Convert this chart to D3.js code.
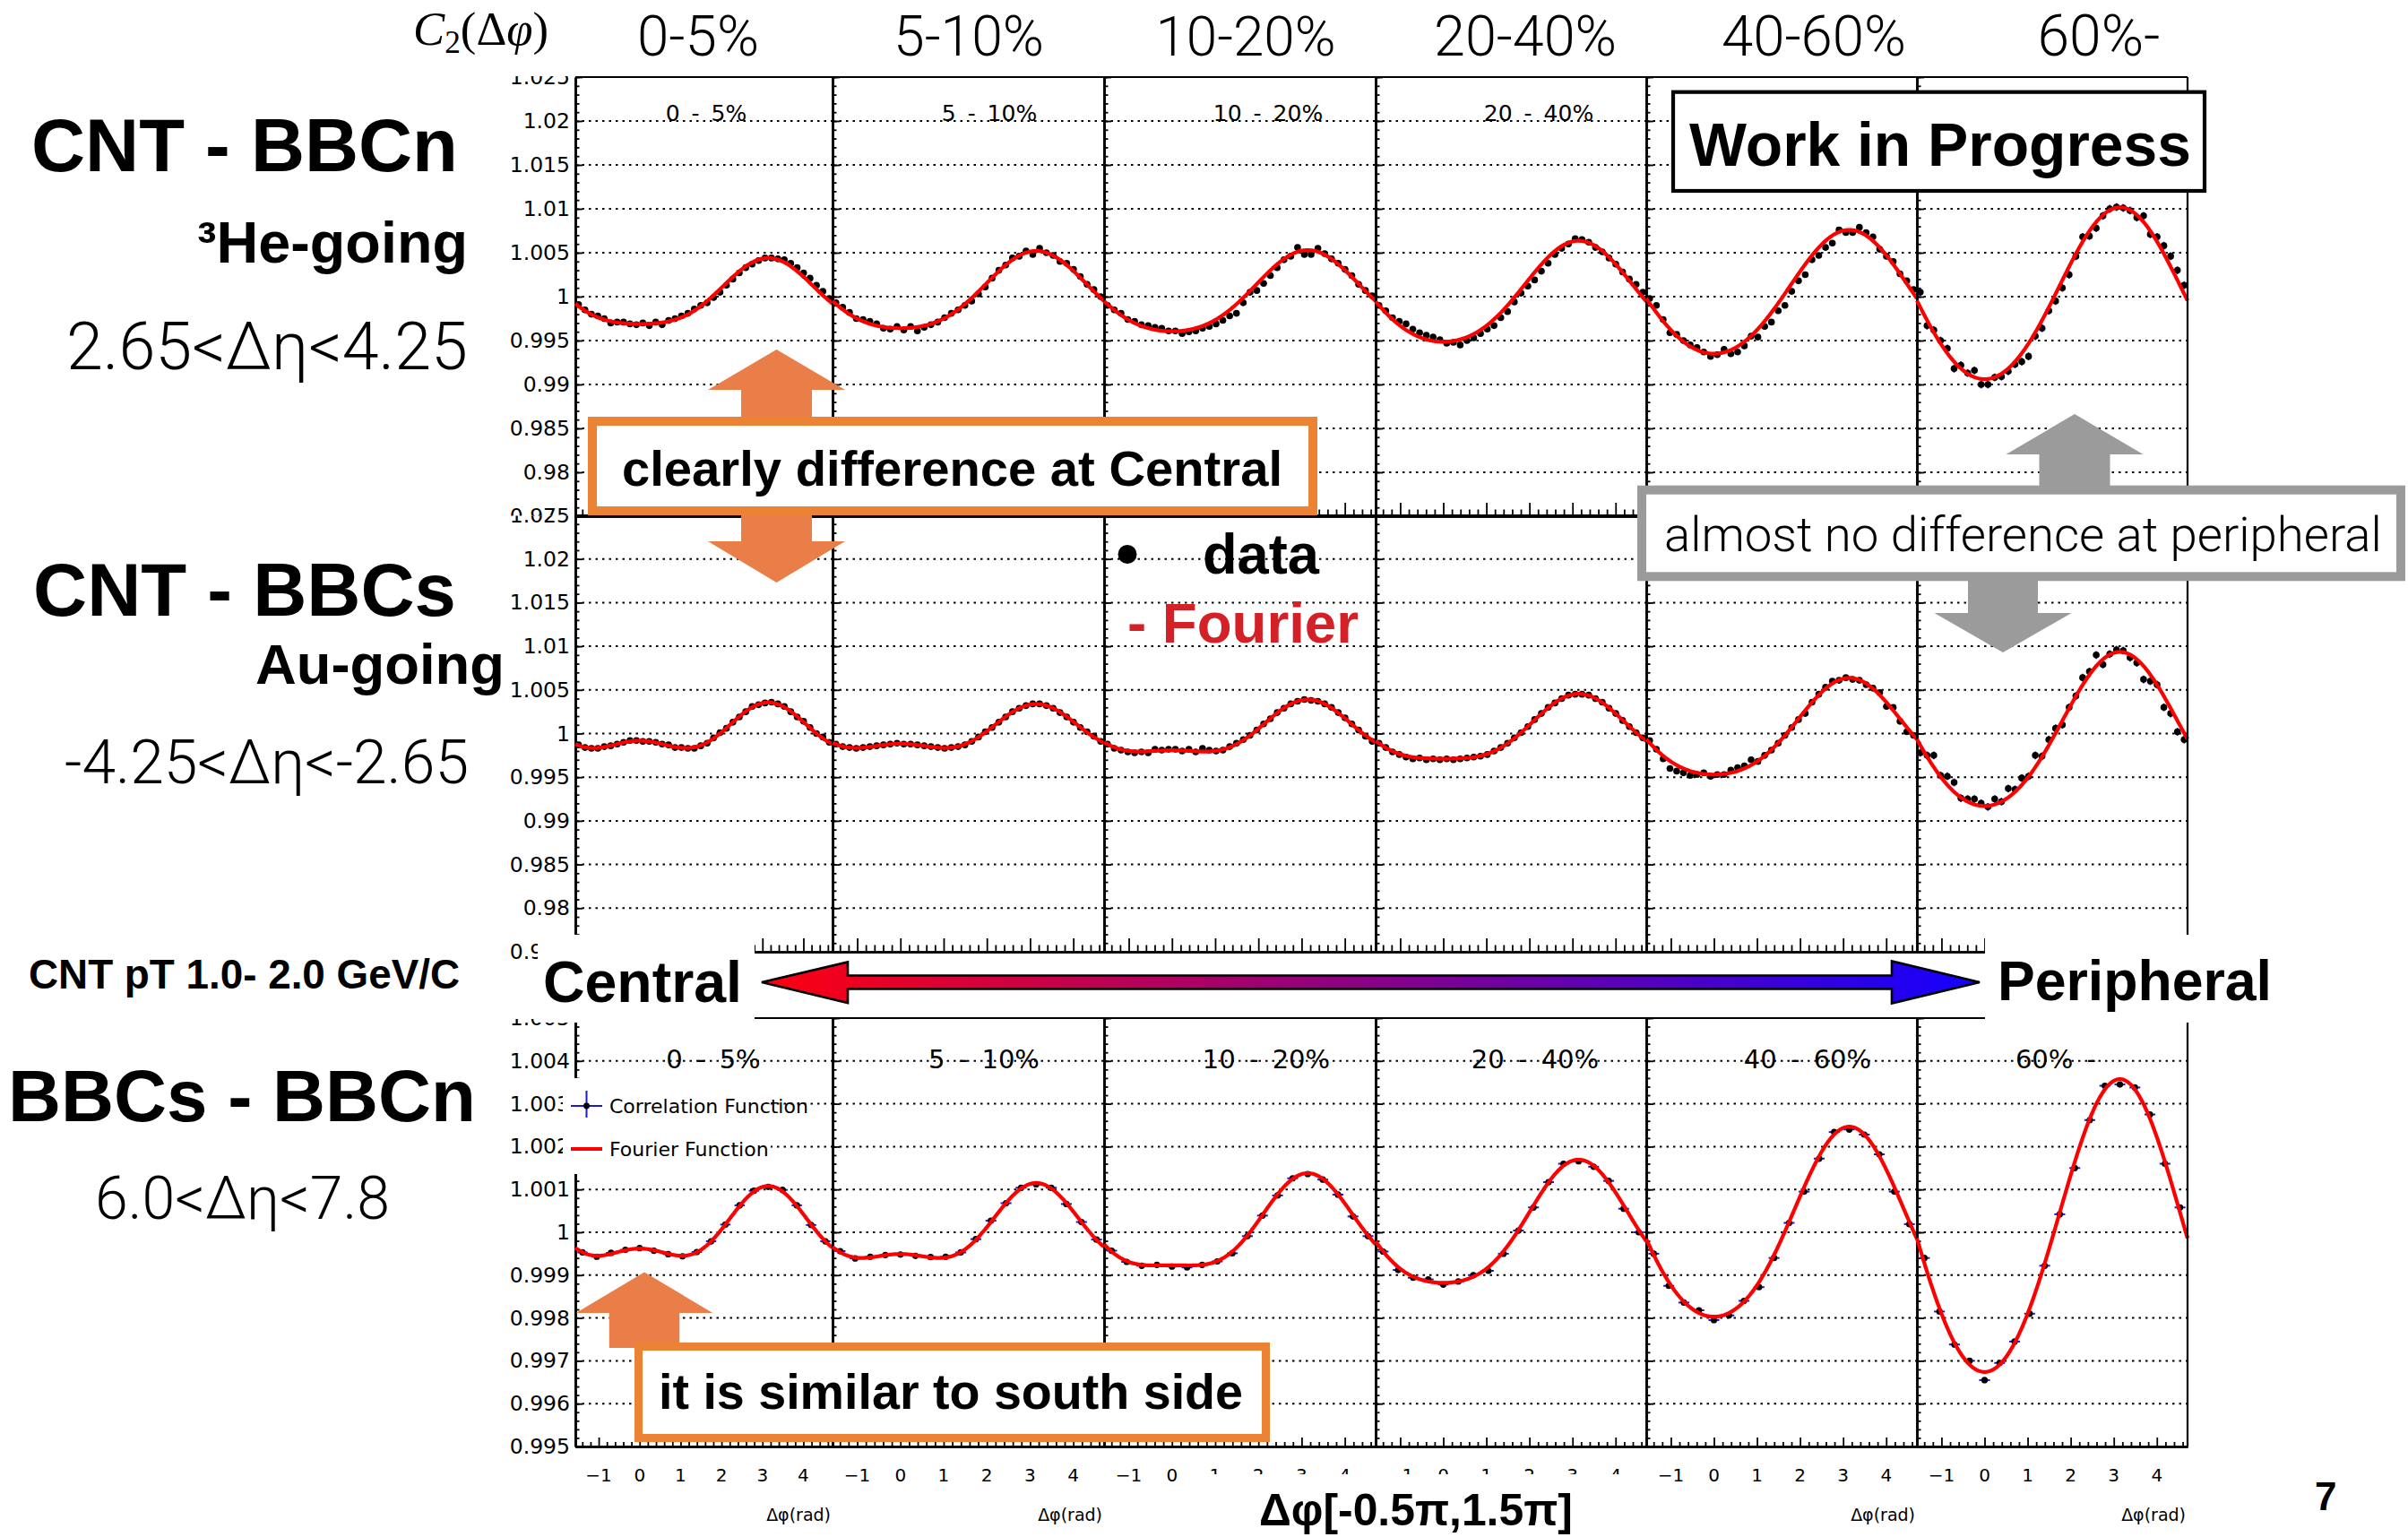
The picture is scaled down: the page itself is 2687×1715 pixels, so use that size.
<!DOCTYPE html>
<html>
<head>
<meta charset="utf-8">
<title>C2(Δφ) – CNT/BBC correlations vs centrality</title>
<script src="https://cdn.jsdelivr.net/npm/d3@7/dist/d3.min.js"></script>
<style>
html,body{margin:0;padding:0;background:#fff;}
svg{display:block;}
</style>
</head>
<body>
<svg id="chart" width="2687" height="1715" viewBox="0 0 2687 1715"></svg>
<script>
// ---------------- values ----------------
const centralityBins = ["0-5%", "5-10%", "10-20%", "20-40%", "40-60%", "60%-"];
const panelTags = ["0 - 5%", "5 - 10%", "10 - 20%", "20 - 40%", "40 - 60%", "60% -"];
const phiTicks = [-1, 0, 1, 2, 3, 4];

// C2(Δφ) − 1 per Δφ bin, 40 bins over [-π/2, 3π/2], in units of 1e-4
const cntBbcnDev = [
  [-9,-15,-20,-22,-25,-30,-29,-29,-31,-32,-30,-33,-29,-32,-27,-25,-22,-19,-14,-10,-7,-1,5,13,20,27,33,37,41,44,44,43,42,38,33,27,21,13,6,-2],
  [-7,-12,-18,-25,-26,-28,-31,-36,-37,-34,-38,-34,-39,-35,-32,-29,-24,-19,-15,-10,-5,3,11,21,30,36,44,46,52,48,55,50,47,40,38,31,23,14,8,0],
  [-10,-15,-19,-26,-28,-32,-33,-35,-36,-39,-39,-42,-40,-39,-36,-34,-31,-27,-22,-19,-7,5,7,15,24,33,42,46,56,48,48,55,49,43,38,31,24,14,7,1],
  [-10,-16,-24,-28,-31,-37,-41,-44,-46,-49,-53,-52,-55,-50,-47,-42,-37,-33,-24,-17,-6,4,12,19,29,38,48,55,60,66,65,62,56,51,44,37,28,20,14,5],
  [-2,-10,-26,-41,-43,-50,-55,-58,-63,-68,-66,-60,-65,-63,-56,-45,-46,-34,-29,-16,-10,6,18,25,42,47,56,61,76,73,73,79,73,68,54,46,40,26,18,8],
  [5,-33,-38,-50,-59,-82,-78,-87,-84,-100,-100,-92,-91,-85,-77,-74,-68,-45,-36,-16,-5,10,25,46,68,69,78,92,100,102,101,98,90,92,71,68,58,46,30,13]
];
const cntBbcsDev = [
  [-13,-16,-17,-17,-15,-14,-12,-10,-8,-8,-9,-9,-10,-12,-13,-16,-16,-17,-17,-14,-11,-5,1,6,13,19,25,31,33,35,36,34,31,25,19,14,7,0,-4,-10],
  [-12,-15,-16,-17,-16,-15,-14,-13,-12,-11,-12,-12,-13,-14,-15,-16,-17,-16,-15,-13,-9,-4,2,7,13,19,25,29,32,34,34,32,29,24,19,13,7,2,-3,-9],
  [-12,-17,-19,-21,-22,-21,-22,-18,-19,-18,-18,-20,-18,-21,-17,-19,-20,-19,-15,-11,-7,-2,4,11,17,24,29,34,37,39,38,37,34,30,24,18,11,4,-3,-9],
  [-11,-16,-21,-24,-27,-29,-28,-30,-29,-30,-29,-30,-29,-28,-27,-26,-24,-20,-16,-11,-5,1,8,16,23,30,35,40,44,45,45,44,40,36,29,23,15,8,1,-5],
  [-8,-18,-29,-40,-43,-45,-48,-47,-45,-49,-47,-47,-42,-39,-37,-30,-32,-25,-19,-11,-2,7,16,23,36,45,53,60,61,64,62,61,56,52,47,31,30,14,2,-2],
  [-22,-25,-25,-48,-49,-56,-74,-75,-75,-80,-84,-75,-78,-63,-64,-51,-49,-25,-26,-7,6,10,30,43,64,71,90,79,91,96,95,87,81,62,60,56,30,23,2,-7]
];
// 18 bins over [-π/2, 3π/2], in units of 1e-5
const bbcsBbcnDev = [
  [-47,-57,-48,-41,-37,-43,-51,-56,-46,-21,18,63,97,106,99,63,17,-21],
  [-44,-61,-57,-53,-52,-55,-58,-57,-47,-16,27,68,104,112,104,66,24,-17],
  [-43,-69,-78,-76,-80,-82,-76,-68,-49,-9,39,86,126,136,123,88,37,-9],
  [-45,-88,-106,-110,-122,-115,-100,-90,-50,4,58,117,160,166,153,120,55,0],
  [-50,-125,-164,-182,-205,-194,-160,-128,-60,22,95,172,234,240,228,182,95,19],
  [-60,-185,-262,-300,-345,-305,-255,-190,-78,42,150,262,342,345,338,275,160,58]
];

// statistical errors per centrality bin (same units as the points)
const cntBbcnErr = [0.5, 0.5, 0.6, 0.8, 1.5, 4.5];
const cntBbcsErr = [0.5, 0.5, 0.6, 0.8, 1.5, 4.5];
const bbcsBbcnErr = [1, 1, 1, 1.5, 2, 3];

// Fourier fit coefficients [a0, a1, a2]: C2 − 1 = a0 + a1 cos Δφ + a2 cos 2Δφ
const cntBbcnFourier = [[-0.75,-37.5,7.25],[1.5,-44,6.5],[0.875,-46.25,5.875],[0.3,-57.5,5.8],[1.75,-70.5,3.75],[-0.3,-97.8,4.2]];
const cntBbcsFourier = [[0.85,-21.9,12.85],[0.325,-22.75,10.825],[-0.05,-29.1,9.95],[-0.075,-37.15,8.425],[0.925,-55.35,7.425],[-0.625,-88.25,5.875]];
const bbcsBbcnFourier = [[-0.5,-73,35.5],[-0.925,-82.85,33.075],[1.25,-107.5,29.25],[2.375,-143.75,23.375],[4.625,-221.75,20.125],[0.875,-341.75,14.875]];

// ---------------- drawing ----------------
const svg = d3.select("#chart");
const defs = svg.append("defs");
const BOLD = "'Liberation Sans', Arial, Helvetica, sans-serif";
const LIGHT = "Roboto, Lato, 'Open Sans', sans-serif";
const ROOTF = "'DejaVu Sans', Verdana, sans-serif";
const SERIF = "'Liberation Serif', 'DejaVu Serif', 'Times New Roman', serif";

svg.append("rect").attr("width", 2687).attr("height", 1715).attr("fill", "#fff");

function fitText(sel, w) {
  const cur = sel.node().getComputedTextLength();
  const fs = parseFloat(sel.attr("font-size"));
  sel.attr("font-size", (fs * w / cur).toFixed(2));
  return sel;
}

const edges = [642, 929, 1232, 1535, 1837, 2139, 2441];
const phiDomain = [-Math.PI / 2, 1.5 * Math.PI];
const phiMinor = d3.range(-7, 24).map(i => +(i * 0.2).toFixed(2))
  .filter(v => Math.abs(v - Math.round(v)) > 1e-6);

// tags hidden by the "Work in Progress" box are not drawn (null)
const rowSpecs = [
  { id: "cntBbcn", dev: cntBbcnDev, fit: cntBbcnFourier, err: cntBbcnErr, unit: 1e-4,
    domain: [0.975, 1.025], yPix: [576, 86], major: 0.005, minor: 0.001, clip: [85, 575.5],
    xTick: [15, 7.5], tag: { y: 135, size: 25, ws: 5, x: [788, 1104, 1415, 1717, null, null] }, dotR: 3.8 },
  { id: "cntBbcs", dev: cntBbcsDev, fit: cntBbcsFourier, err: cntBbcsErr, unit: 1e-4,
    domain: [0.975, 1.025], yPix: [1062, 575], major: 0.005, minor: 0.001, clip: [575.5, 1080],
    xTick: [15, 7.5], tag: null, dotR: 3.8 },
  { id: "bbcsBbcn", dev: bbcsBbcnDev, fit: bbcsBbcnFourier, err: bbcsBbcnErr, unit: 1e-5,
    domain: [0.995, 1.005], yPix: [1614, 1136], major: 0.001, minor: 0.0002, clip: [1137, 1715],
    xTick: [10, 5], tag: { y: 1192, size: 29, ws: 6, x: [796, 1098, 1413, 1713, 2017, 2294] }, dotR: 3.6,
    xLabels: true, unitLabel: [true, true, false, false, true, true] }
];

const plots = svg.append("g").attr("class", "plots");

rowSpecs.forEach(spec => {
  const g = plots.append("g").attr("class", "row " + spec.id);
  const y = d3.scaleLinear().domain(spec.domain).range(spec.yPix);
  const span = spec.domain[1] - spec.domain[0];
  const yMajor = d3.range(Math.round(span / spec.major) + 1).map(i => +(spec.domain[0] + i * spec.major).toFixed(4));
  const yMinor = d3.range(Math.round(span / spec.minor) + 1).map(i => +(spec.domain[0] + i * spec.minor).toFixed(5));
  const [yb, yt] = spec.yPix;

  centralityBins.forEach((cent, p) => {
    const x = d3.scaleLinear().domain(phiDomain).range([edges[p], edges[p + 1]]);
    const pg = g.append("g").attr("class", "panel");

    // dotted grid at the major y ticks
    pg.selectAll(null).data(yMajor.slice(1, -1)).enter().append("line")
      .attr("x1", edges[p]).attr("x2", edges[p + 1])
      .attr("y1", d => y(d)).attr("y2", d => y(d))
      .attr("stroke", "#000").attr("stroke-width", 2).attr("stroke-dasharray", "2.5 5");

    // y axis with inward ticks
    const ya = pg.append("g").attr("transform", `translate(${edges[p]},0)`);
    ya.append("g").call(d3.axisRight(y).tickValues(yMinor).tickSize(4.5).tickSizeOuter(0).tickFormat(""));
    ya.append("g").call(d3.axisRight(y).tickValues(yMajor).tickSize(8).tickSizeOuter(0).tickFormat(""));
    ya.selectAll(".domain").attr("stroke-width", 2.6);
    ya.selectAll(".tick line").attr("stroke-width", 1.8);

    // x axis with upward ticks
    const xa = pg.append("g").attr("transform", `translate(0,${yb})`);
    xa.append("g").call(d3.axisTop(x).tickValues(phiMinor.filter(v => v > phiDomain[0] && v < phiDomain[1]))
      .tickSize(spec.xTick[1]).tickSizeOuter(0).tickFormat(""));
    xa.append("g").call(d3.axisTop(x).tickValues(phiTicks).tickSize(spec.xTick[0]).tickSizeOuter(0).tickFormat(""));
    xa.selectAll(".domain").attr("stroke-width", 2.6);
    xa.selectAll(".tick line").attr("stroke-width", 1.8);

    // top frame
    pg.append("line").attr("x1", edges[p]).attr("x2", edges[p + 1]).attr("y1", yt).attr("y2", yt)
      .attr("stroke", "#000").attr("stroke-width", 2.2);

    // data points with error bars
    const dev = spec.dev[p], n = dev.length, bw = 2 * Math.PI / n;
    const pts = dev.map((d, i) => ({ phi: phiDomain[0] + (i + 0.5) * bw, v: 1 + d * spec.unit, e: spec.err[p] * spec.unit }));
    pg.selectAll(null).data(pts).enter().append("line")
      .attr("x1", d => x(d.phi - 0.36 * bw)).attr("x2", d => x(d.phi + 0.36 * bw))
      .attr("y1", d => y(d.v)).attr("y2", d => y(d.v))
      .attr("stroke", "#1a1ad0").attr("stroke-width", 2);
    pg.selectAll(null).data(pts).enter().append("line")
      .attr("x1", d => x(d.phi)).attr("x2", d => x(d.phi))
      .attr("y1", d => y(d.v - d.e)).attr("y2", d => y(d.v + d.e))
      .attr("stroke", "#1a1ad0").attr("stroke-width", 1.6);
    pg.selectAll(null).data(pts).enter().append("circle")
      .attr("cx", d => x(d.phi)).attr("cy", d => y(d.v)).attr("r", spec.dotR).attr("fill", "#000");

    // Fourier function
    const c = spec.fit[p];
    const fourier = phi => 1 + spec.unit * (c[0] + c[1] * Math.cos(phi) + c[2] * Math.cos(2 * phi));
    const curvePhi = d3.range(0, 361).map(i => phiDomain[0] + i * (phiDomain[1] - phiDomain[0]) / 360);
    pg.append("path").datum(curvePhi)
      .attr("d", d3.line().x(d => x(d)).y(d => y(fourier(d))))
      .attr("fill", "none").attr("stroke", "#ff0000").attr("stroke-width", 4.2).attr("stroke-linejoin", "round");

    // centrality tag inside the pad
    if (spec.tag && spec.tag.x[p] != null) {
      pg.append("text").attr("x", spec.tag.x[p]).attr("y", spec.tag.y)
        .attr("text-anchor", "middle").attr("font-family", ROOTF).attr("font-size", spec.tag.size)
        .attr("word-spacing", spec.tag.ws).text(panelTags[p]);
    }

    // Δφ labels under the last row
    if (spec.xLabels) {
      pg.selectAll(null).data(phiTicks).enter().append("text")
        .attr("x", d => x(d)).attr("y", 1653).attr("text-anchor", "middle")
        .attr("font-family", ROOTF).attr("font-size", 20)
        .text(d => d < 0 ? "\u2212" + (-d) : String(d));
      if (spec.unitLabel[p]) {
        pg.append("text").attr("x", edges[p + 1] - 2).attr("y", 1697).attr("text-anchor", "end")
          .attr("font-family", ROOTF).attr("font-size", 19).text("Δφ(rad)");
      }
    }
  });

  // right frame
  g.append("line").attr("x1", edges[6]).attr("x2", edges[6]).attr("y1", yt).attr("y2", yb)
    .attr("stroke", "#000").attr("stroke-width", 2.2);

  // y labels on the first pad, clipped to the pad height
  const clipId = "clip-" + spec.id;
  defs.append("clipPath").attr("id", clipId).append("rect")
    .attr("x", 0).attr("y", spec.clip[0]).attr("width", 700).attr("height", spec.clip[1] - spec.clip[0]);
  const lab = g.append("g").attr("clip-path", `url(#${clipId})`)
    .append("g").attr("transform", `translate(${edges[0] - 1},0)`)
    .call(d3.axisLeft(y).tickValues(yMajor).tickSize(0).tickPadding(5).tickFormat(d => String(+d.toFixed(3))));
  lab.select(".domain").remove();
  lab.selectAll("text").attr("font-family", ROOTF).attr("font-size", 23.5).attr("fill", "#000");
});

// ---------------- legend in the BBCs-BBCn first pad ----------------
const leg = svg.append("g").attr("class", "legend");
leg.append("rect").attr("x", 628).attr("y", 1203).attr("width", 232).attr("height", 107).attr("fill", "#fff");
leg.append("line").attr("x1", 637).attr("x2", 672).attr("y1", 1234).attr("y2", 1234).attr("stroke", "#1a1ad0").attr("stroke-width", 2);
leg.append("line").attr("x1", 654.5).attr("x2", 654.5).attr("y1", 1217).attr("y2", 1247).attr("stroke", "#1a1ad0").attr("stroke-width", 2);
leg.append("circle").attr("cx", 654.5).attr("cy", 1234).attr("r", 3.4).attr("fill", "#000");
leg.append("text").attr("x", 680).attr("y", 1242).attr("font-family", ROOTF).attr("font-size", 22).text("Correlation Function");
leg.append("line").attr("x1", 637).attr("x2", 672).attr("y1", 1282).attr("y2", 1282).attr("stroke", "#ff0000").attr("stroke-width", 4);
leg.append("text").attr("x", 680).attr("y", 1290).attr("font-family", ROOTF).attr("font-size", 22).text("Fourier Function");

// ---------------- central → peripheral band ----------------
const band = svg.append("g").attr("class", "band");
band.append("rect").attr("x", 600).attr("y", 1043).attr("width", 242).attr("height", 98).attr("fill", "#fff");
band.append("rect").attr("x", 2215).attr("y", 1043).attr("width", 400).attr("height", 98).attr("fill", "#fff");
const grad = defs.append("linearGradient").attr("id", "centGrad")
  .attr("gradientUnits", "userSpaceOnUse").attr("x1", 850).attr("x2", 2209).attr("y1", 0).attr("y2", 0);
grad.append("stop").attr("offset", 0).attr("stop-color", "#ff0010");
grad.append("stop").attr("offset", 1).attr("stop-color", "#1400ff");
band.append("polygon")
  .attr("points", [[850,1096],[946,1073.5],[946,1088.5],[2111,1088.5],[2111,1072.5],[2209,1096],[2111,1119.5],[2111,1103.5],[946,1103.5],[946,1119]].map(p => p.join(",")).join(" "))
  .attr("fill", "url(#centGrad)").attr("stroke", "#000").attr("stroke-width", 2.6).attr("stroke-linejoin", "miter");
fitText(band.append("text").attr("x", 606).attr("y", 1118).attr("font-family", BOLD).attr("font-weight", "bold")
  .attr("font-size", 62).text("Central"), 222);
fitText(band.append("text").attr("x", 2229).attr("y", 1116).attr("font-family", BOLD).attr("font-weight", "bold")
  .attr("font-size", 62).text("Peripheral"), 306);

// ---------------- x title under the bottom row ----------------
svg.append("rect").attr("x", 1330).attr("y", 1645).attr("width", 505).attr("height", 70).attr("fill", "#fff");
fitText(svg.append("text").attr("x", 1405).attr("y", 1702).attr("font-family", BOLD).attr("font-weight", "bold")
  .attr("font-size", 50).text("Δφ[-0.5π,1.5π]"), 350);
svg.append("text").attr("x", 2583).attr("y", 1685).attr("font-family", BOLD).attr("font-weight", "bold")
  .attr("font-size", 44).text("7");

// ---------------- annotations ----------------
function vArrow(cx, tipY, baseY, headHalf, shaftHalf, endY) {
  return [[cx, tipY], [cx + headHalf, baseY], [cx + shaftHalf, baseY], [cx + shaftHalf, endY],
          [cx - shaftHalf, endY], [cx - shaftHalf, baseY], [cx - headHalf, baseY]].map(p => p.join(",")).join(" ");
}
const ann = svg.append("g").attr("class", "annotations");
const ARROW_ORANGE = "#e97e48", BOX_ORANGE = "#ec8234", GRAY = "#9b9b9b";

ann.append("polygon").attr("points", vArrow(866.5, 390, 435, 76.5, 39.5, 480)).attr("fill", ARROW_ORANGE);
ann.append("polygon").attr("points", vArrow(866.5, 650, 604, 76.5, 39.5, 560)).attr("fill", ARROW_ORANGE);
ann.append("polygon").attr("points", vArrow(2315, 462, 507, 76.5, 39.5, 560)).attr("fill", GRAY);
ann.append("polygon").attr("points", vArrow(2235, 728, 684, 76.5, 39, 630)).attr("fill", GRAY);
ann.append("polygon").attr("points", vArrow(719, 1419.5, 1465, 76.3, 39.2, 1504)).attr("fill", ARROW_ORANGE);

// boxes
ann.append("rect").attr("x", 661).attr("y", 470).attr("width", 804).attr("height", 100)
  .attr("fill", "#fff").attr("stroke", BOX_ORANGE).attr("stroke-width", 10);
fitText(ann.append("text").attr("x", 694).attr("y", 542).attr("font-family", BOLD).attr("font-weight", "bold")
  .attr("font-size", 55).text("clearly difference at Central"), 737);

ann.append("rect").attr("x", 712.5).attr("y", 1502.5).attr("width", 700).attr("height", 102)
  .attr("fill", "#fff").attr("stroke", BOX_ORANGE).attr("stroke-width", 9);
fitText(ann.append("text").attr("x", 735).attr("y", 1572).attr("font-family", BOLD).attr("font-weight", "bold")
  .attr("font-size", 55).text("it is similar to south side"), 652);

ann.append("rect").attr("x", 1867).attr("y", 102.7).attr("width", 593).attr("height", 110.3)
  .attr("fill", "#fff").attr("stroke", "#000").attr("stroke-width", 4.2);
fitText(ann.append("text").attr("x", 1885).attr("y", 185).attr("font-family", BOLD).attr("font-weight", "bold")
  .attr("font-size", 68).text("Work in Progress"), 560);

ann.append("rect").attr("x", 1832).attr("y", 546.7).attr("width", 847).attr("height", 96.6)
  .attr("fill", "#fff").attr("stroke", GRAY).attr("stroke-width", 10);
fitText(ann.append("text").attr("x", 1857).attr("y", 615).attr("font-family", LIGHT).attr("font-weight", 300)
  .attr("font-size", 53).text("almost no difference at peripheral"), 801);

// data / Fourier key
ann.append("circle").attr("cx", 1258).attr("cy", 618.5).attr("r", 10.5).attr("fill", "#000");
fitText(ann.append("text").attr("x", 1342).attr("y", 640).attr("font-family", BOLD).attr("font-weight", "bold")
  .attr("font-size", 62).text("data"), 130);
fitText(ann.append("text").attr("x", 1258).attr("y", 717).attr("font-family", BOLD).attr("font-weight", "bold")
  .attr("font-size", 62).attr("fill", "#d42027").text("- Fourier"), 258);

// ---------------- headers and row titles ----------------
const hdr = svg.append("g").attr("class", "headers");
const c2 = hdr.append("text").attr("x", 461).attr("y", 50).attr("font-family", SERIF).attr("font-size", 54);
c2.append("tspan").attr("font-style", "italic").text("C");
c2.append("tspan").attr("font-size", 36).attr("dy", 9).text("2");
c2.append("tspan").attr("dy", -9).text("(Δ");
c2.append("tspan").attr("font-style", "italic").text("φ");
c2.append("tspan").text(")");
fitText(c2, 151);
c2.selectAll("tspan").filter((d, i) => i === 1).attr("font-size", (parseFloat(c2.attr("font-size")) * 0.67).toFixed(1));

const headerCenters = [779, 1081, 1390, 1702, 2024, 2342];
const headerWidths = [136, 168, 201, 204, 206, 137];
centralityBins.forEach((c, i) => {
  fitText(hdr.append("text").attr("x", headerCenters[i]).attr("y", 62).attr("text-anchor", "middle")
    .attr("font-family", LIGHT).attr("font-weight", 300).attr("font-size", 57).text(c), headerWidths[i]);
});

const titles = [
  { t: "CNT - BBCn", x: 35, y: 191, w: 476, f: BOLD, wt: "bold", s: 84 },
  { t: "³He-going", x: 220, y: 293, w: 302, f: BOLD, wt: "bold", s: 62 },
  { t: "2.65<Δη<4.25", x: 74, y: 412, w: 448, f: LIGHT, wt: 300, s: 70 },
  { t: "CNT - BBCs", x: 37, y: 687, w: 472, f: BOLD, wt: "bold", s: 84 },
  { t: "Au-going", x: 285, y: 763, w: 278, f: BOLD, wt: "bold", s: 62 },
  { t: "-4.25<Δη<-2.65", x: 72, y: 874, w: 451, f: LIGHT, wt: 300, s: 70 },
  { t: "CNT pT 1.0- 2.0 GeV/C", x: 32, y: 1103, w: 481, f: BOLD, wt: "bold", s: 44 },
  { t: "BBCs - BBCn", x: 9, y: 1251, w: 522, f: BOLD, wt: "bold", s: 82 },
  { t: "6.0<Δη<7.8", x: 106, y: 1360, w: 329, f: LIGHT, wt: 300, s: 63 }
];
titles.forEach(o => {
  fitText(hdr.append("text").attr("x", o.x).attr("y", o.y).attr("font-family", o.f)
    .attr("font-weight", o.wt).attr("font-size", o.s).text(o.t), o.w);
});
</script>
</body>
</html>
